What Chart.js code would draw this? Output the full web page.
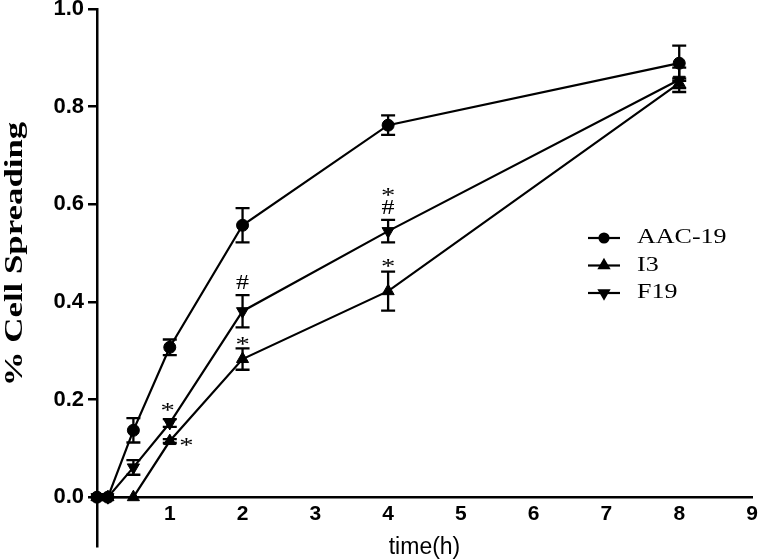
<!DOCTYPE html>
<html>
<head>
<meta charset="utf-8">
<script src="https://cdn.jsdelivr.net/npm/chart.js@4.4.0/dist/chart.umd.min.js"></script>
<style>
    html, body { margin: 0; padding: 0; background: #fff; }
    canvas { display: block; }
</style>
</head>
<body>
<canvas id="chart" width="760" height="559"></canvas>
<script>
// values
const seriesNames = ['AAC-19', 'I3', 'F19'];
const timePoints = [0, 0.15, 0.5, 1, 2, 4, 8];

const aac19Values = [0, 0, 0.137, 0.307, 0.557, 0.762, 0.889];
const aac19Errors = [0, 0, 0.025, 0.016, 0.035, 0.020, 0.036];

const i3Values = [0, 0, 0, 0.115, 0.283, 0.422, 0.848];
const i3Errors = [0, 0, 0, 0.004, 0.022, 0.040, 0.010];

const f19Values = [0, 0, 0.061, 0.152, 0.381, 0.545, 0.855];
const f19Errors = [0, 0, 0.015, 0.008, 0.033, 0.023, 0.025];

const xTicks = [1, 2, 3, 4, 5, 6, 7, 8, 9];
const yTicks = [0, 0.2, 0.4, 0.6, 0.8, 1.0];

// significance marks (x, y in data units, glyph centre)
const markX = [0.97, 1.23, 2.0, 2.0, 4.0, 4.0, 4.0];
const markY = [0.184, 0.113, 0.44, 0.32, 0.625, 0.594, 0.48];
const markText = ['*', '*', '#', '*', '*', '#', '*'];

const pointStyles = ['circle', 'triangle', 'triangle'];
const pointRotations = [0, 0, 180];
const pointSizes = [6, 7, 7];

const allValues = [aac19Values, i3Values, f19Values];
const allErrors = [aac19Errors, i3Errors, f19Errors];

function stretchedText(ctx, text, x, y, font, stretch, align) {
    ctx.save();
    ctx.font = font;
    ctx.fillStyle = '#000';
    ctx.textAlign = align;
    ctx.textBaseline = 'middle';
    ctx.translate(x, y);
    ctx.scale(stretch, 1);
    ctx.fillText(text, 0, 0);
    ctx.restore();
}

const errorBars = {
    id: 'errorBars',
    beforeDatasetsDraw(chart) {
        const { ctx, scales: { x, y } } = chart;
        ctx.save();
        ctx.strokeStyle = '#000';
        ctx.lineWidth = 2.3;
        allErrors.forEach((errs, s) => {
            errs.forEach((e, i) => {
                if (!e) return;
                const px = x.getPixelForValue(timePoints[i]);
                const top = y.getPixelForValue(allValues[s][i] + e);
                const bot = y.getPixelForValue(allValues[s][i] - e);
                ctx.beginPath();
                ctx.moveTo(px, top); ctx.lineTo(px, bot);
                ctx.moveTo(px - 7, top); ctx.lineTo(px + 7, top);
                ctx.moveTo(px - 7, bot); ctx.lineTo(px + 7, bot);
                ctx.stroke();
            });
        });
        ctx.restore();
    }
};

const extras = {
    id: 'extras',
    afterDraw(chart) {
        const { ctx, scales: { x, y } } = chart;

        // significance marks
        markText.forEach((t, i) => {
            ctx.save();
            ctx.font = (t === '*' ? '22px' : '20px') + ' "Liberation Serif"';
            const m = ctx.measureText(t);
            const cx = x.getPixelForValue(markX[i]);
            const cy = y.getPixelForValue(markY[i]);
            const base = cy + (m.actualBoundingBoxAscent - m.actualBoundingBoxDescent) / 2;
            ctx.fillStyle = '#000';
            ctx.textAlign = 'center';
            ctx.textBaseline = 'alphabetic';
            ctx.translate(cx, base);
            ctx.scale(1.3, 1);
            ctx.fillText(t, 0, 0);
            ctx.restore();
        });

        // y axis title
        ctx.save();
        ctx.translate(22, 254);
        ctx.rotate(-Math.PI / 2);
        ctx.scale(1.34, 1);
        ctx.font = 'bold 26px "Liberation Serif"';
        ctx.fillStyle = '#000';
        ctx.textAlign = 'center';
        ctx.textBaseline = 'alphabetic';
        ctx.fillText('% Cell Spreading', 0, 0);
        ctx.restore();

        // legend
        seriesNames.forEach((name, i) => {
            const ly = 238 + i * 27.5;
            ctx.save();
            ctx.strokeStyle = '#000';
            ctx.lineWidth = 2.2;
            ctx.beginPath();
            ctx.moveTo(588, ly); ctx.lineTo(620, ly);
            ctx.stroke();
            ctx.fillStyle = '#000';
            Chart.helpers.drawPoint(ctx, {
                pointStyle: pointStyles[i],
                rotation: pointRotations[i],
                radius: pointSizes[i] - 1.5,
                borderWidth: 1
            }, 604, ly);
            ctx.restore();
            stretchedText(ctx, name, 637, ly, '20px "Liberation Serif"', 1.3, 'left');
        });
    }
};

new Chart(document.getElementById('chart'), {
    type: 'line',
    data: {
        datasets: seriesNames.map((name, s) => ({
            label: name,
            data: timePoints.map((t, i) => ({ x: t, y: allValues[s][i] })),
            borderColor: '#000',
            backgroundColor: '#000',
            borderWidth: 2.2,
            pointStyle: pointStyles[s],
            rotation: pointRotations[s],
            pointRadius: pointSizes[s],
            pointBorderWidth: 1,
            pointBackgroundColor: '#000',
            pointBorderColor: '#000',
            tension: 0,
            clip: false
        }))
    },
    options: {
        responsive: false,
        animation: false,
        layout: { padding: { top: 9, right: 7, bottom: 13, left: 0 } },
        plugins: {
            legend: { display: false },
            tooltip: { enabled: false }
        },
        scales: {
            x: {
                type: 'linear',
                min: 0,
                max: 9,
                position: { y: 0 }, // x axis sits on y = 0, the y axis runs below it
                afterBuildTicks: s => { s.ticks = xTicks.map(v => ({ value: v })); },
                afterFit: s => { s.paddingLeft = 0; s.paddingRight = 0; },
                grid: { display: false, drawTicks: false },
                border: { display: true, color: '#000', width: 2.5 },
                ticks: {
                    color: '#000',
                    autoSkip: false,
                    maxRotation: 0,
                    padding: 4,
                    font: { family: 'Liberation Sans', size: 21, weight: 'bold' }
                },
                title: {
                    display: true,
                    text: 'time(h)',
                    color: '#000',
                    padding: { top: 3, bottom: 0 },
                    font: { family: 'Liberation Sans', size: 23 }
                }
            },
            y: {
                type: 'linear',
                min: -0.1,
                max: 1.0,
                afterBuildTicks: s => { s.ticks = yTicks.map(v => ({ value: v })); },
                afterFit: s => { s.width = 97; s.paddingTop = 0; s.paddingBottom = 0; },
                grid: { drawOnChartArea: false, drawTicks: true, tickLength: 9, color: '#000', lineWidth: 2.5 },
                border: { display: true, color: '#000', width: 2.5 },
                ticks: {
                    color: '#000',
                    padding: 4,
                    font: { family: 'Liberation Sans', size: 22, weight: 'bold' },
                    callback: v => v.toFixed(1)
                }
            }
        }
    },
    plugins: [errorBars, extras]
});
</script>
</body>
</html>
